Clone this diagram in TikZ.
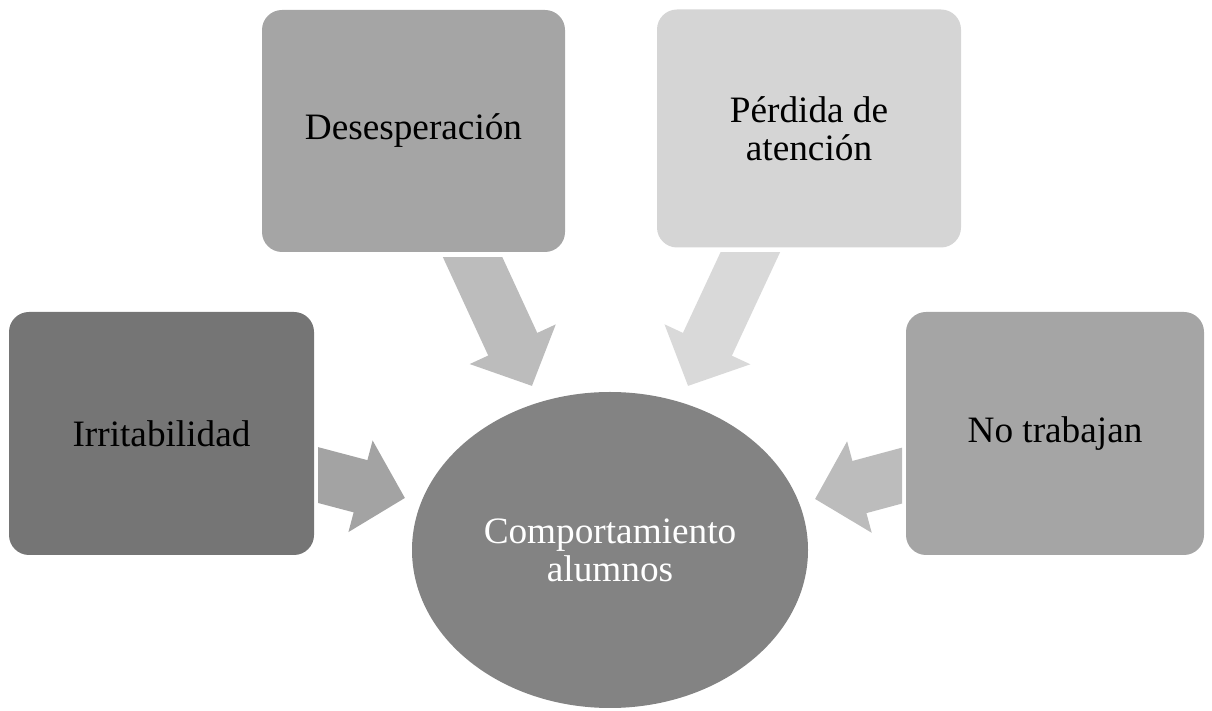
\documentclass[tikz,border=0pt]{standalone}
\usepackage{fontspec}
\setmainfont{Liberation Serif}
\usetikzlibrary{arrows.meta,shapes.geometric}
\definecolor{grisirr}{HTML}{757575}
\definecolor{grismed}{HTML}{A5A5A5}
\definecolor{grisclaro}{HTML}{D5D5D5}
\definecolor{griscentro}{HTML}{838383}
\definecolor{flechaizq}{HTML}{A3A3A3}
\definecolor{flechamed}{HTML}{BCBCBC}
\definecolor{flechaclara}{HTML}{D9D9D9}

\begin{document}
\begin{tikzpicture}[
    caja/.style={rounded corners=0.2cm, inner sep=0pt, align=center,
    font=\fontsize{10.6}{10.8}\selectfont},
    flecha/.style={line width=0.54cm,
    -{Triangle[width=0.92cm,length=0.46cm]}},
    every node/.style={text=black}
    ]
    \useasboundingbox (0,0) rectangle (12.12,-7.11);
    % Block arrows (drawn first, tails cut straight)
    \coordinate (irrout) at (3.08,-4.724);
    \coordinate (irrin) at (4.05,-4.98);
    \coordinate (desout) at (4.67,-2.45);
    \coordinate (desin) at (5.32,-3.86);
    \coordinate (perout) at (7.56,-2.40);
    \coordinate (perin) at (6.88,-3.86);
    \coordinate (notrout) at (9.12,-4.729);
    \coordinate (notrin) at (8.15,-4.99);
    \begin{scope}
        \clip (3.18,0) rectangle (12.12,-7.11);
        \draw[flecha, flechaizq] (irrout) -- (irrin);
    \end{scope}
    \begin{scope}
        \clip (0,-2.58) rectangle (12.12,-7.11);
        \draw[flecha, flechamed] (desout) -- (desin);
    \end{scope}
    \begin{scope}
        \clip (0,-2.53) rectangle (12.12,-7.11);
        \draw[flecha, flechaclara] (perout) -- (perin);
    \end{scope}
    \begin{scope}
        \clip (0,0) rectangle (9.02,-7.11);
        \draw[flecha, flechamed] (notrout) -- (notrin);
    \end{scope}
    % Boxes
    \node[caja, fill=grisirr, minimum width=3.05cm, minimum height=2.43cm]
        (irr) at (1.615,-4.335) {Irritabilidad};
    \node[caja, fill=grismed, minimum width=3.03cm, minimum height=2.42cm]
        (des) at (4.135,-1.31) {Desesperación};
    \node[caja, fill=grisclaro, minimum width=3.04cm, minimum height=2.38cm]
        (per) at (8.09,-1.285) {Pérdida de\\atención};
    \node[caja, fill=grismed, minimum width=2.98cm, minimum height=2.43cm]
        (notr) at (10.55,-4.335) {No trabajan};
    % Center
    \node[ellipse, fill=griscentro, inner sep=0pt, minimum width=3.96cm,
        minimum height=3.16cm, align=center, text=white,
        font=\fontsize{10.6}{10.8}\selectfont]
        (comp) at (6.10,-5.50) {Comportamiento\\alumnos};
\end{tikzpicture}
\end{document}
